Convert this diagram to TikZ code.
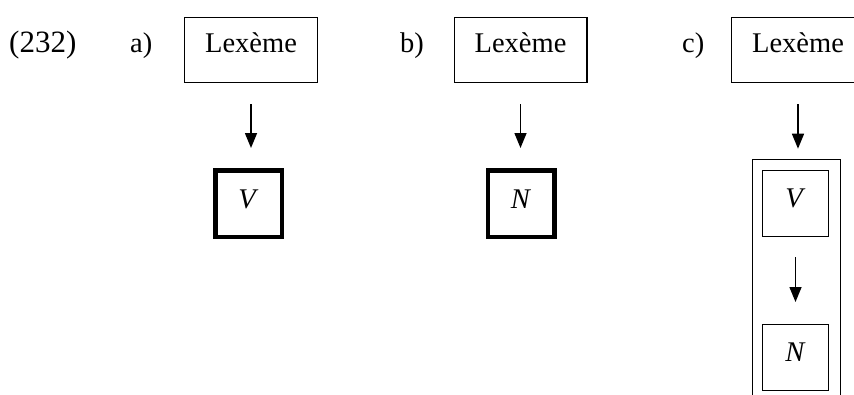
\documentclass[tikz,border=0pt]{standalone}
\usepackage{fontspec}
\setmainfont{Liberation Serif}
\usetikzlibrary{arrows.meta}
\tikzset{
  every node/.style={font=\fontsize{28.5}{34}\selectfont},
  lexbox/.style={draw, line width=1.4pt, inner sep=0pt, minimum width=132.6pt, text height=34.3pt, text depth=30.3pt},
  catthick/.style={draw, line width=4.5pt, inner sep=0pt, minimum width=66.5pt, text height=38.5pt, text depth=28pt},
  catthin/.style={draw, line width=1.4pt, inner sep=0pt, minimum width=65.6pt, text height=36.3pt, text depth=29.3pt},
  lbl/.style={anchor=base west, inner sep=0pt},
  arr/.style={line width=1.5pt, -{Triangle[length=15pt,width=12pt]}},
  frame/.style={line width=1.4pt}
}
\begin{document}
\begin{tikzpicture}[x=1pt,y=-1pt]
\useasboundingbox (0,0) rectangle (854,394);
\clip (0,0) rectangle (854,394);
% labels
\node[lbl, font=\fontsize{31}{36}\selectfont] (num) at (9,52.5) {(232)};
\node[lbl] (la) at (130,52.5) {a)};
\node[lbl] (lb) at (400,52.5) {b)};
\node[lbl] (lc) at (682,52.5) {c)};
% a)
\node[lexbox] (lexa) at (251,50) {Lexème};
\node[catthick] (va) at (248.5,203.5) {\textit{V}};
\draw[arr, shorten <=21pt, shorten >=20pt] (lexa.south) -- (lexa.south |- va.north);
% b)
\node[lexbox] (lexb) at (520.5,50) {Lexème};
\node[catthick] (nb) at (521,203.5) {\textit{N}};
\draw[arr, shorten <=21pt, shorten >=20pt] (lexb.south) -- (lexb.south |- nb.north);
% c)
\node[lexbox] (lexc) at (798,50) {Lexème};
\coordinate (cft) at (797,159.7);
\coordinate (cfl) at (752.7,400);
\coordinate (cfr) at (840.3,400);
\draw[frame] (cfl) |- (cft) -| (cfr);
\node[catthin] (vc) at (795.5,203.5) {\textit{V}};
\node[catthin] (nc) at (795.5,357.5) {\textit{N}};
\draw[arr, shorten <=21pt, shorten >=11pt] (lexc.south) -- (lexc.south |- cft);
\draw[arr, shorten <=20pt, shorten >=22pt] (vc.south) -- (nc.north);
\end{tikzpicture}
\end{document}
